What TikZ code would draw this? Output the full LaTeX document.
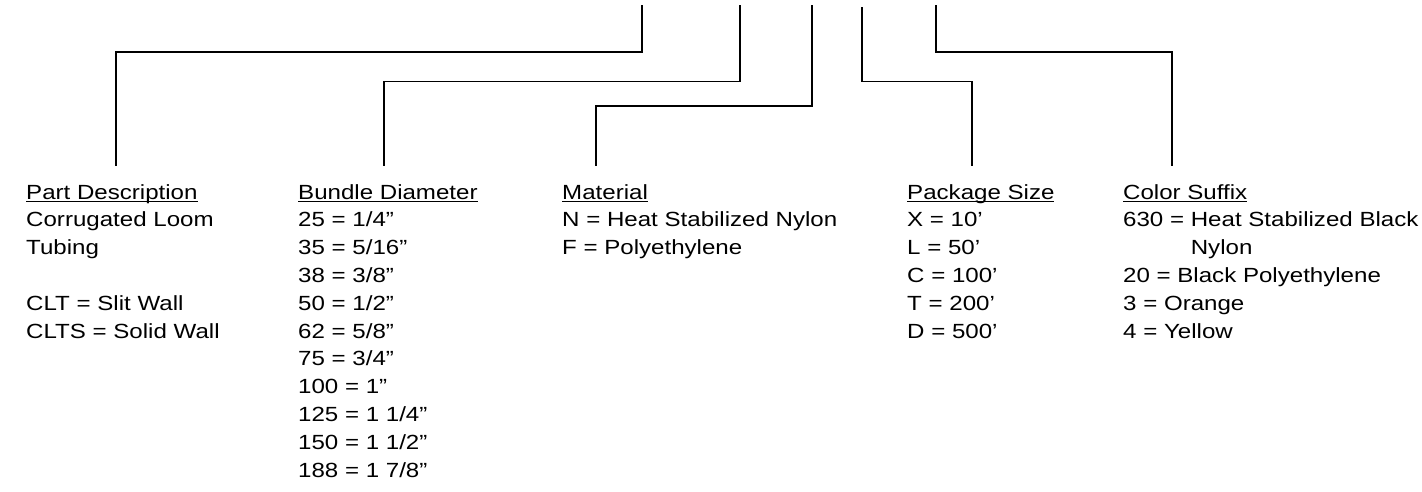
\documentclass[tikz,border=0pt]{standalone}
\usepackage{fontspec}
\setmainfont{Liberation Sans}[FakeStretch=1.175]
\newcommand\myul[1]{\setbox0\hbox{#1}\rlap{\rule[-3.4pt]{\wd0}{1.6pt}}#1}
\tikzset{
  lbl/.style={anchor=base west, inner sep=0pt, font=\fontsize{20.5}{27.8}\selectfont},
  leader/.style={line width=1.7pt, line join=miter},
}
\begin{document}
\begin{tikzpicture}[x=1pt,y=-1pt]
\useasboundingbox (0,0) rectangle (1422,491);
% headings
\node[lbl] (partH) at (26,199) {\myul{Part Description}};
\node[lbl] (bundH) at (298,199) {\myul{Bundle Diameter}};
\node[lbl] (matH)  at (562,199) {\myul{Material}};
\node[lbl] (packH) at (907,199) {\myul{Package Size}};
\node[lbl] (colH)  at (1123,199) {\myul{Color Suffix}};
% part description
\node[lbl] (part1) at (26,{199+27.8*1}) {Corrugated Loom};
\node[lbl] (part2) at (26,{199+27.8*2}) {Tubing};
\node[lbl] (part4) at (26,{199+27.8*4}) {CLT = Slit Wall};
\node[lbl] (part5) at (26,{199+27.8*5}) {CLTS = Solid Wall};
% bundle diameter
\foreach \t [count=\k] in {25 = 1/4”, 35 = 5/16”, 38 = 3/8”, 50 = 1/2”, 62 = 5/8”, 75 = 3/4”, 100 = 1”, 125 = 1 1/4”, 150 = 1 1/2”, 188 = 1 7/8”}
  \node[lbl] (bund\k) at (298,{199+27.8*\k}) {\t};
% material
\node[lbl] (mat1) at (562,{199+27.8*1}) {N = Heat Stabilized Nylon};
\node[lbl] (mat2) at (562,{199+27.8*2}) {F = Polyethylene};
% package size
\foreach \t [count=\k] in {X = 10’, L = 50’, C = 100’, T = 200’, D = 500’}
  \node[lbl] (pack\k) at (907,{199+27.8*\k}) {\t};
% color suffix
\foreach \t [count=\k] in {630 = Heat Stabilized Black, {\phantom{630 = }Nylon}, 20 = Black Polyethylene, 3 = Orange, 4 = Yellow}
  \node[lbl] (col\k) at (1123,{199+27.8*\k}) {\t};
% leader coordinates
\coordinate (t1) at (642,5);   \coordinate (b1) at (116,166);
\coordinate (t2) at (740,5);   \coordinate (b2) at (384,166);
\coordinate (t3) at (812,5);   \coordinate (b3) at (596,166);
\coordinate (t4) at (862,7);   \coordinate (b4) at (972,166);
\coordinate (t5) at (936,5);   \coordinate (b5) at (1172,166);
\coordinate (hA) at (0,52);
\coordinate (hB) at (0,81.5);
\coordinate (hC) at (0,106);
\draw[leader] (t1) -- (t1 |- hA) -| (b1);
\draw[leader] (t2) -- (t2 |- hB) -| (b2);
\draw[leader] (t3) -- (t3 |- hC) -| (b3);
\draw[leader] (t4) -- (t4 |- hB) -| (b4);
\draw[leader] (t5) -- (t5 |- hA) -| (b5);
\end{tikzpicture}
\end{document}
